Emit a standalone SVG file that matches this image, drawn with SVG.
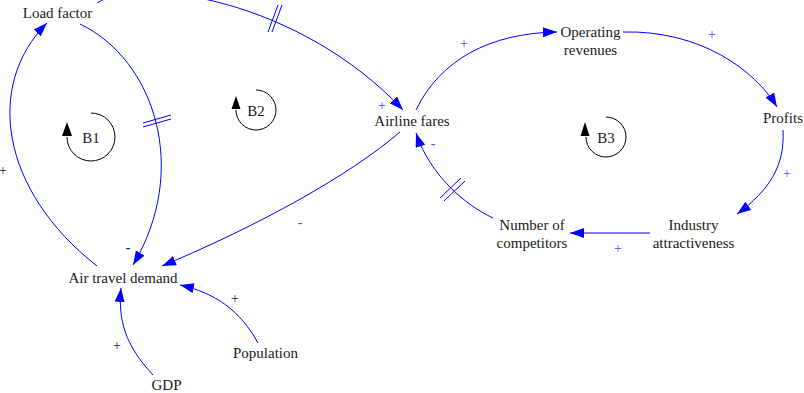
<svg xmlns="http://www.w3.org/2000/svg" width="804" height="393" viewBox="0 0 804 393">
<style>
.lbl{font-family:"Liberation Serif","Times New Roman",serif;font-size:15px;fill:#1a1a1a;text-anchor:middle}
.link{fill:none;stroke:#0000ff;stroke-width:1}
.delay{stroke:#0000ff;stroke-width:1}
.sgnB{font-family:"Liberation Serif","Times New Roman",serif;font-size:14px;fill:#4a4aff;text-anchor:middle}
.sgnK{font-family:"Liberation Serif","Times New Roman",serif;font-size:14px;fill:#1a1a1a;text-anchor:middle}
.loop{fill:none;stroke:#000;stroke-width:1}
.lhead{fill:#000}
</style>
<defs>
<marker id="ah" markerUnits="userSpaceOnUse" markerWidth="16" markerHeight="12" refX="14" refY="5" orient="auto">
<path d="M0,0 L14,5 L0,10 z" fill="#0000ff"/>
</marker>
</defs>
<rect width="804" height="393" fill="#fff"/>
<g id="connectors">
<path class="link" marker-end="url(#ah)" d="M97,266 C0,190 -15,85 47,23"/>
<path class="link" marker-end="url(#ah)" d="M80,24 C155,60 190,170 133,265"/>
<path class="link" marker-end="url(#ah)" d="M97,3 C140,-25 300,0 403,110"/>
<path class="link" marker-end="url(#ah)" d="M400,132 C350,175 260,225 162,266"/>
<path class="link" marker-end="url(#ah)" d="M416,110 C440,60 490,33 557,32"/>
<path class="link" marker-end="url(#ah)" d="M623,32 C700,30 755,70 777,107"/>
<path class="link" marker-end="url(#ah)" d="M783,130 C785,165 770,190 737,214"/>
<path class="link" marker-end="url(#ah)" d="M650,233 L570,233"/>
<path class="link" marker-end="url(#ah)" d="M493,218 C465,205 430,175 416,133"/>
<path class="link" marker-end="url(#ah)" d="M153,375 C125,345 118,320 121,288"/>
<path class="link" marker-end="url(#ah)" d="M258,343 C240,310 215,293 180,285"/>
<line class="delay" x1="143" y1="123" x2="171" y2="115"/>
<line class="delay" x1="143" y1="127" x2="171" y2="119"/>
<line class="delay" x1="268" y1="32" x2="278" y2="5"/>
<line class="delay" x1="272" y1="32" x2="282" y2="5"/>
<line class="delay" x1="440" y1="198" x2="461" y2="178"/>
<line class="delay" x1="444" y1="201" x2="465" y2="181"/>
<text class="sgnK" x="3" y="175">+</text>
<text class="sgnK" x="128" y="252">-</text>
<text class="sgnB" x="382" y="110">+</text>
<text class="sgnB" x="300" y="227">-</text>
<text class="sgnB" x="464" y="48">+</text>
<text class="sgnB" x="712" y="39">+</text>
<text class="sgnB" x="787" y="178">+</text>
<text class="sgnB" x="618" y="253">+</text>
<text class="sgnB" x="433" y="148">-</text>
<text class="sgnK" x="235" y="303">+</text>
<text class="sgnK" x="117" y="350">+</text>
</g>
<g id="loop-B1">
<path class="loop" d="M91,113 A24,24 0 1 1 67,137"/>
<polygon class="lhead" points="67,122 62,136 72,136"/>
<text class="lbl" x="91" y="143">B1</text>
</g>
<g id="loop-B2">
<path class="loop" d="M256,90 A20,20 0 1 1 236,110"/>
<polygon class="lhead" points="236,96 231.5,109 240.5,109"/>
<text class="lbl" x="256" y="116">B2</text>
</g>
<g id="loop-B3">
<path class="loop" d="M606,117 A20,20 0 1 1 586,137"/>
<polygon class="lhead" points="585,122 580.5,136 589.5,136"/>
<text class="lbl" x="606" y="143">B3</text>
</g>
<g id="load-factor"><text class="lbl" x="57.5" y="18">Load factor</text></g>
<g id="airline-fares"><text class="lbl" x="412" y="126">Airline fares</text></g>
<g id="operating-revenues"><text class="lbl" x="590.5" y="37">Operating</text><text class="lbl" x="590.5" y="55">revenues</text></g>
<g id="profits"><text class="lbl" x="783" y="123">Profits</text></g>
<g id="industry-attractiveness"><text class="lbl" x="693.5" y="230">Industry</text><text class="lbl" x="693.5" y="248">attractiveness</text></g>
<g id="number-of-competitors"><text class="lbl" x="532" y="230">Number of</text><text class="lbl" x="532" y="248">competitors</text></g>
<g id="air-travel-demand"><text class="lbl" x="123" y="283">Air travel demand</text></g>
<g id="population"><text class="lbl" x="265.5" y="358">Population</text></g>
<g id="gdp"><text class="lbl" x="166.5" y="390">GDP</text></g>
</svg>
